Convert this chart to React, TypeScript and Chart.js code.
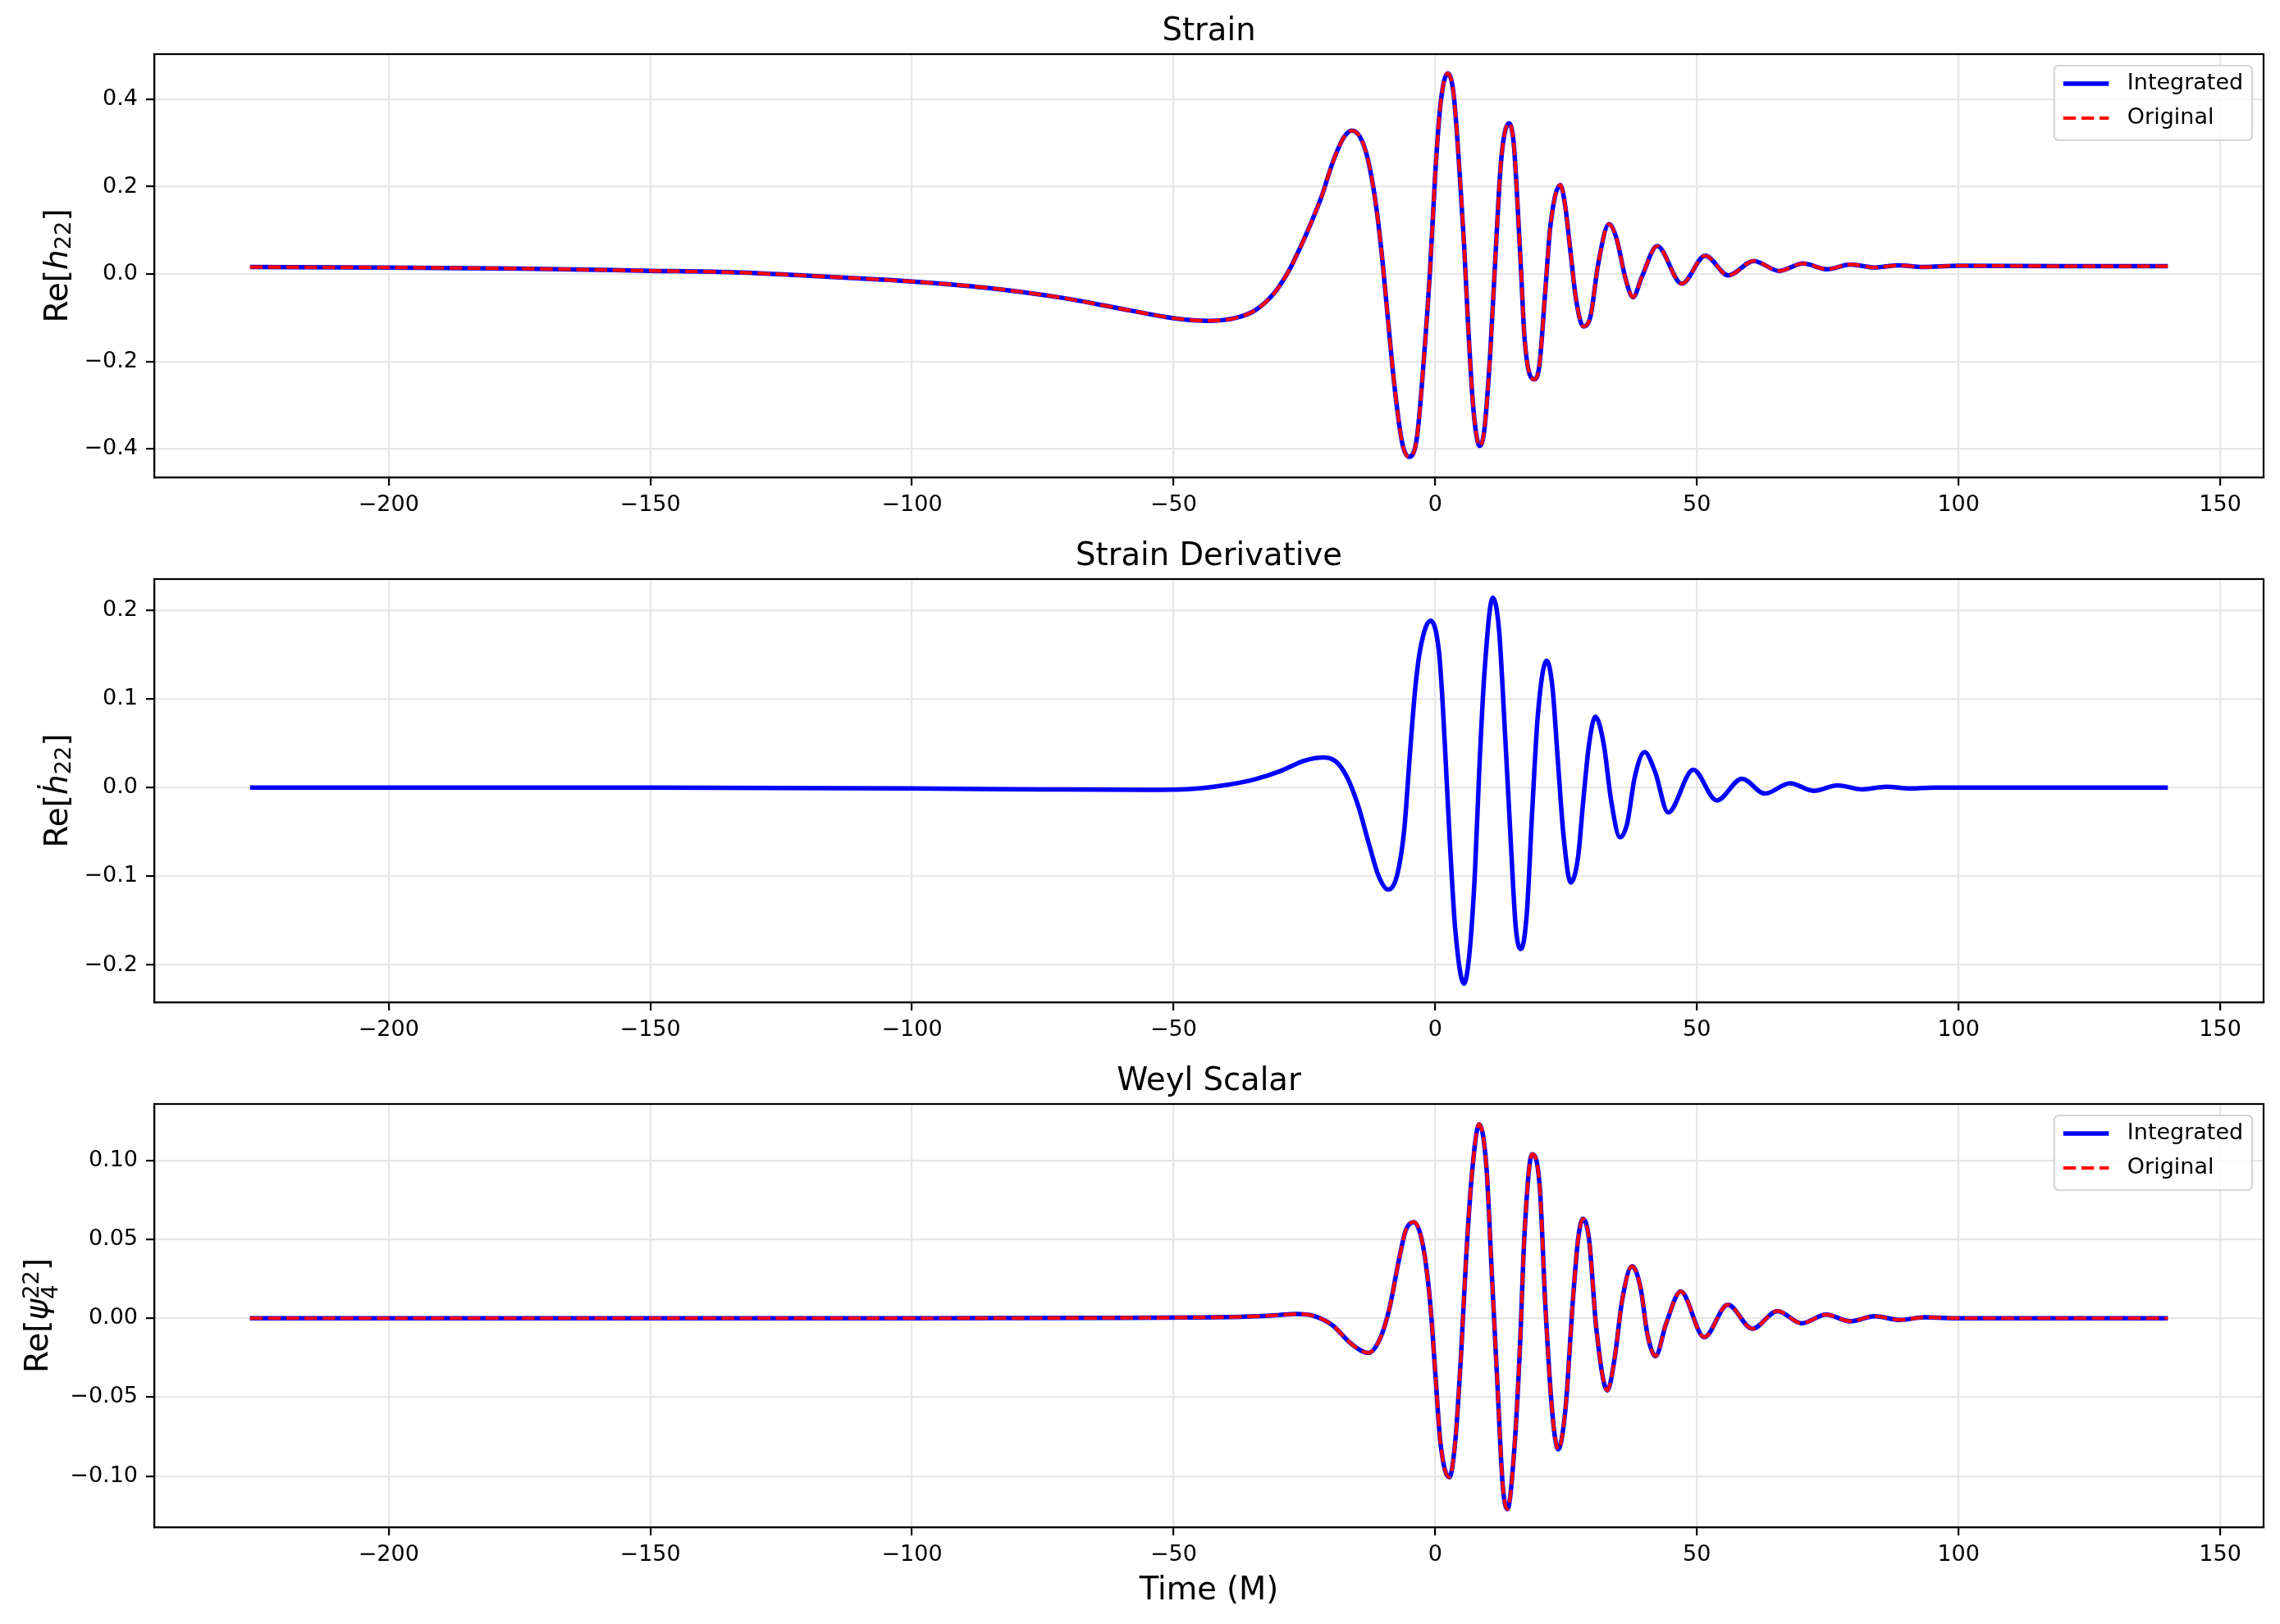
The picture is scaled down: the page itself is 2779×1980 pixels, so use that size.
import { useEffect, useRef } from "react";
import Chart from "chart.js/auto";

// ---- data ----
const xTicks = [-200, -150, -100, -50, 0, 50, 100, 150];

const strainTime = [
  -226.5, -200, -175, -150, -135, -121, -107, -100, -86, -72, -58, -50, -43, -38, -34.3, -30.8, -28,
  -25.9, -23.8, -21.7, -19.6, -17.5, -15.9, -14, -12.6, -11.2, -10.1, -9.1, -7.7, -6.3, -5.0, -3.5,
  -2.1, -1.0, 0, 1.0, 2.4, 3.5, 4.5, 5.5, 6.3, 7.3, 8.5, 9.4, 10.5, 11.5, 12.6, 14.1, 15.0, 15.7,
  16.4, 17.1, 18.9, 19.9, 21, 22, 23.9, 24.8, 25.9, 26.9, 28.3, 29.7, 31.1, 33.2, 34.6, 36.4, 37.8,
  39.5, 42.4, 47.1, 51.6, 56.0, 60.9, 65.7, 70.3, 74.9, 79.3, 84, 88.5, 93.2, 100, 120, 140,
];
const strainIntegrated = [
  0.016, 0.015, 0.0125, 0.0075, 0.0043, -0.003, -0.012, -0.017, -0.031, -0.053, -0.084, -0.101, -0.107,
  -0.1, -0.082, -0.044, 0.007, 0.058, 0.115, 0.178, 0.255, 0.312, 0.328, 0.305, 0.248, 0.147, 0.032,
  -0.095, -0.266, -0.387, -0.418, -0.374, -0.183, 0.007, 0.229, 0.388, 0.459, 0.413, 0.261, 0.07,
  -0.12, -0.31, -0.393, -0.355, -0.183, 0.039, 0.261, 0.345, 0.299, 0.166, 0.007, -0.152, -0.241,
  -0.209, -0.044, 0.109, 0.204, 0.159, 0.045, -0.057, -0.12, -0.095, 0.02, 0.114, 0.083, -0.012,
  -0.053, -0.006, 0.064, -0.022, 0.042, -0.003, 0.03, 0.007, 0.024, 0.011, 0.022, 0.015, 0.02, 0.016,
  0.019, 0.018, 0.018,
];
// the original curve lies on top of the integrated one everywhere
const strainOriginal = strainIntegrated;

const derivTime = [
  -226.5, -150, -100, -75, -55, -46.9, -39.9, -34.3, -29.4, -25.2, -21.3, -18.9, -16.8, -14.7, -12.6,
  -10.8, -9.0, -7.3, -5.9, -4.9, -3.8, -2.8, -0.9, 0.7, 1.4, 2.1, 2.8, 3.8, 5.5, 6.6, 7.6, 8.4, 9.4,
  11.0, 12.2, 13.3, 14.3, 15.4, 16.4, 17.5, 18.5, 19.6, 21.3, 22.4, 23.4, 24.5, 25.9, 27.3, 28.3, 29.4,
  30.6, 32.2, 33.6, 35.3, 36.7, 38.1, 40.0, 42.0, 44.5, 49.3, 53.8, 58.6, 63.0, 67.8, 72.3, 76.9, 81.5,
  86.2, 90.7, 95.4, 110, 140,
];
const derivIntegrated = [
  0, 0, -0.001, -0.002, -0.0025, -0.0016, 0.003, 0.0096, 0.019, 0.03, 0.034, 0.029, 0.011, -0.021,
  -0.065, -0.1, -0.115, -0.099, -0.046, 0.033, 0.113, 0.158, 0.188, 0.154, 0.097, 0.018, -0.062,
  -0.158, -0.221, -0.183, -0.094, 0.018, 0.129, 0.214, 0.177, 0.065, -0.046, -0.158, -0.182, -0.142,
  -0.03, 0.081, 0.143, 0.113, 0.033, -0.053, -0.107, -0.078, -0.014, 0.049, 0.08, 0.049, -0.014,
  -0.056, -0.04, 0.011, 0.04, 0.018, -0.028, 0.02, -0.0145, 0.01, -0.0068, 0.0049, -0.0037, 0.0025,
  -0.002, 0.0009, -0.001, 0, 0, 0,
];

const weylTime = [
  -226.5, -100, -60, -46.9, -36.4, -30, -26.6, -23.1, -19.6, -16.1, -12.8, -10.5, -8.7, -7.0, -5.6,
  -4.1, -2.4, -1.0, 0, 1.0, 2.7, 3.8, 4.9, 5.9, 7.0, 8.4, 9.8, 10.8, 11.9, 12.9, 13.8, 15.0, 16.1,
  17.1, 18.5, 20.0, 21.0, 22.4, 23.5, 24.9, 26.3, 27.3, 28.2, 29.4, 30.8, 32.9, 34.3, 35.7, 37.6,
  39.2, 40.6, 42.1, 44.1, 46.9, 51.4, 55.9, 60.6, 65.4, 70.0, 74.7, 79.3, 84.0, 88.8, 93.5, 100, 140,
];
const weylIntegrated = [
  0, 0, 0.0003, 0.0005, 0.001, 0.002, 0.0027, 0.0014, -0.0045, -0.016, -0.0219, -0.0125, 0.007, 0.036,
  0.056, 0.061, 0.047, 0.011, -0.034, -0.079, -0.1007, -0.079, -0.025, 0.038, 0.091, 0.123, 0.095,
  0.029, -0.043, -0.106, -0.121, -0.088, -0.025, 0.056, 0.104, 0.082, 0.011, -0.061, -0.083, -0.057,
  0.011, 0.05, 0.063, 0.05, -0.007, -0.0457, -0.025, 0.011, 0.033, 0.02, -0.011, -0.024, -0.0036,
  0.017, -0.012, 0.0086, -0.0066, 0.0046, -0.0032, 0.0023, -0.0019, 0.0013, -0.001, 0.0006, 0, 0,
];
const weylOriginal = weylIntegrated;

const strainTicks = [-0.4, -0.2, 0, 0.2, 0.4];
const derivTicks = [-0.2, -0.1, 0, 0.1, 0.2];
const weylTicks = [-0.1, -0.05, 0, 0.05, 0.1];

// ---- layout ----
const W = 2779;
const FONT = "'DejaVu Sans'";
const GRID = "#e7e7e7";
const LW = 2.2;

type Seg = { t?: string; italic?: boolean; small?: boolean; dy?: number; sup?: string; sub?: string };
type Series = { label: string; x: number[]; y: number[]; color: string; width: number; dash: number[] };
type PanelSpec = {
  title: string;
  ylabel: Seg[];
  ylabelX: number;
  series: Series[];
  yMin: number;
  yMax: number;
  yTicks: number[];
  decimals: number;
  legend: boolean;
  xlabel?: string;
  top: number;
  height: number;
  padBottom: number;
};

const fmt = (v: number, d: number) => {
  const s = Math.abs(v) < 1e-9 ? (0).toFixed(d) : v.toFixed(d);
  return s.replace("-", "\u2212");
};

function drawRich(ctx: CanvasRenderingContext2D, segs: Seg[], size: number) {
  const small = size * 0.7;
  const font = (it: boolean, sz: number) => `${it ? "italic " : ""}${sz}px ${FONT}`;
  const widths = segs.map((s) => {
    if (s.sup !== undefined || s.sub !== undefined) {
      ctx.font = font(false, small);
      return Math.max(ctx.measureText(s.sup ?? "").width, ctx.measureText(s.sub ?? "").width);
    }
    ctx.font = font(!!s.italic, s.small ? small : size);
    return ctx.measureText(s.t ?? "").width;
  });
  const total = widths.reduce((a, b) => a + b, 0);
  let x = -total / 2;
  ctx.textBaseline = "alphabetic";
  ctx.textAlign = "left";
  segs.forEach((s, i) => {
    if (s.sup !== undefined || s.sub !== undefined) {
      ctx.font = font(false, small);
      if (s.sup) ctx.fillText(s.sup, x, -11);
      if (s.sub) ctx.fillText(s.sub, x, 12);
    } else {
      ctx.font = font(!!s.italic, s.small ? small : size);
      ctx.fillText(s.t ?? "", x, s.dy ?? 0);
    }
    x += widths[i];
  });
}

function makeChart(canvas: HTMLCanvasElement, p: PanelSpec) {
  const decor = {
    id: "decor",
    afterDatasetsDraw(chart: Chart) {
      const { ctx, chartArea: a } = chart;
      ctx.save();
      ctx.strokeStyle = "#000";
      ctx.lineWidth = LW;
      ctx.strokeRect(a.left, a.top, a.right - a.left, a.bottom - a.top);

      if (p.legend) {
        const fs = 27;
        ctx.font = `${fs}px ${FONT}`;
        const tw = Math.max(...p.series.map((s) => ctx.measureText(s.label).width));
        const bw = 11 + 55.6 + 22.2 + tw + 11;
        const bh = 91;
        const bx = a.right - 14 - bw;
        const by = a.top + 14;
        ctx.beginPath();
        ctx.roundRect(bx, by, bw, bh, 5.6);
        ctx.fillStyle = "rgba(255,255,255,0.8)";
        ctx.fill();
        ctx.strokeStyle = "rgba(204,204,204,0.8)";
        ctx.lineWidth = LW;
        ctx.stroke();
        p.series.forEach((s, i) => {
          const ry = by + 22 + i * 42;
          ctx.beginPath();
          ctx.setLineDash(s.dash);
          ctx.strokeStyle = s.color;
          ctx.lineWidth = s.width;
          ctx.moveTo(bx + 11, ry);
          ctx.lineTo(bx + 66.6, ry);
          ctx.stroke();
          ctx.setLineDash([]);
          ctx.fillStyle = "#000";
          ctx.textBaseline = "middle";
          ctx.textAlign = "left";
          ctx.fillText(s.label, bx + 89, ry);
        });
      }
      ctx.restore();
    },
    afterDraw(chart: Chart) {
      const { ctx, chartArea: a } = chart;
      const cx = (a.left + a.right) / 2;
      ctx.save();
      ctx.fillStyle = "#000";
      ctx.font = `38.5px ${FONT}`;
      ctx.textAlign = "center";
      ctx.textBaseline = "alphabetic";
      ctx.fillText(p.title, cx, a.top - 17.4);
      if (p.xlabel) ctx.fillText(p.xlabel, cx, a.bottom + 88);
      ctx.translate(p.ylabelX, (a.top + a.bottom) / 2);
      ctx.rotate(-Math.PI / 2);
      drawRich(ctx, p.ylabel, 39);
      ctx.restore();
    },
  };

  const n = p.series.length;
  return new Chart(canvas, {
    type: "line",
    data: {
      datasets: p.series.map((s, i) => ({
        label: s.label,
        data: s.x.map((x, j) => ({ x, y: s.y[j] })),
        borderColor: s.color,
        borderWidth: s.width,
        borderDash: s.dash,
        pointRadius: 0,
        fill: false,
        cubicInterpolationMode: "monotone" as const,
        // later series are drawn on top, as in the reference
        order: n - i,
      })),
    },
    options: {
      animation: false,
      responsive: false,
      devicePixelRatio: 1,
      events: [],
      layout: { padding: { top: 66, right: 20, bottom: p.padBottom, left: 0 } },
      plugins: { legend: { display: false }, tooltip: { enabled: false }, title: { display: false } },
      scales: {
        x: {
          type: "linear",
          min: -244.8,
          max: 158.3,
          afterFit: (s: any) => {
            s.height = 58;
          },
          afterBuildTicks: (s: any) => {
            s.ticks = xTicks.map((v) => ({ value: v }));
          },
          ticks: {
            font: { family: FONT, size: 27 },
            color: "#000",
            padding: 8,
            maxRotation: 0,
            autoSkip: false,
            callback: (v: any) => fmt(Number(v), 0),
          },
          grid: { color: GRID, lineWidth: LW, tickLength: 10, tickColor: "#000", tickWidth: LW },
          border: { display: true, color: "#000", width: LW },
        },
        y: {
          type: "linear",
          min: p.yMin,
          max: p.yMax,
          afterFit: (s: any) => {
            s.width = 188;
          },
          afterBuildTicks: (s: any) => {
            s.ticks = p.yTicks.map((v) => ({ value: v }));
          },
          ticks: {
            font: { family: FONT, size: 27 },
            color: "#000",
            padding: 10,
            autoSkip: false,
            callback: (v: any) => fmt(Number(v), p.decimals),
          },
          grid: { color: GRID, lineWidth: LW, tickLength: 10, tickColor: "#000", tickWidth: LW },
          border: { display: true, color: "#000", width: LW },
        },
      },
    },
    plugins: [decor],
  });
}

const blue = (x: number[], y: number[]): Series => ({
  label: "Integrated",
  x,
  y,
  color: "#0000ff",
  width: 5.5,
  dash: [],
});
const red = (x: number[], y: number[]): Series => ({
  label: "Original",
  x,
  y,
  color: "#ff0000",
  width: 4.2,
  dash: [15.4, 6.7],
});

const panels: PanelSpec[] = [
  {
    title: "Strain",
    ylabel: [{ t: "Re[" }, { t: "h", italic: true }, { t: "22", small: true, dy: 4 }, { t: "]" }],
    ylabelX: 82,
    series: [blue(strainTime, strainIntegrated), red(strainTime, strainOriginal)],
    yMin: -0.465,
    yMax: 0.503,
    yTicks: strainTicks,
    decimals: 1,
    legend: true,
    top: 0,
    height: 640,
    padBottom: 0,
  },
  {
    title: "Strain Derivative",
    ylabel: [{ t: "Re[" }, { t: "\u1E23", italic: true }, { t: "22", small: true, dy: 4 }, { t: "]" }],
    ylabelX: 82,
    series: [blue(derivTime, derivIntegrated)],
    yMin: -0.242,
    yMax: 0.235,
    yTicks: derivTicks,
    decimals: 1,
    legend: false,
    top: 640,
    height: 640,
    padBottom: 0,
  },
  {
    title: "Weyl Scalar",
    ylabel: [{ t: "Re[" }, { t: "\u03C8", italic: true }, { sup: "22", sub: "4" }, { t: "]" }],
    ylabelX: 58,
    series: [blue(weylTime, weylIntegrated), red(weylTime, weylOriginal)],
    yMin: -0.1324,
    yMax: 0.1358,
    yTicks: weylTicks,
    decimals: 2,
    legend: true,
    xlabel: "Time (M)",
    top: 1280,
    height: 700,
    padBottom: 60,
  },
];

function Panel({ spec }: { spec: PanelSpec }) {
  const canvasRef = useRef<HTMLCanvasElement | null>(null);
  const chartRef = useRef<Chart | null>(null);

  useEffect(() => {
    if (!canvasRef.current) return;
    if (chartRef.current) chartRef.current.destroy();
    chartRef.current = makeChart(canvasRef.current, spec);
    return () => {
      chartRef.current?.destroy();
      chartRef.current = null;
    };
  }, [spec]);

  return (
    <canvas
      ref={canvasRef}
      width={W}
      height={spec.height}
      style={{ position: "absolute", left: 0, top: spec.top, width: W, height: spec.height, display: "block" }}
    />
  );
}

export default function App() {
  return (
    <div style={{ position: "absolute", left: 0, top: 0, width: W, height: 1980, background: "#fff", overflow: "hidden" }}>
      {panels.map((p) => (
        <Panel key={p.title} spec={p} />
      ))}
    </div>
  );
}
